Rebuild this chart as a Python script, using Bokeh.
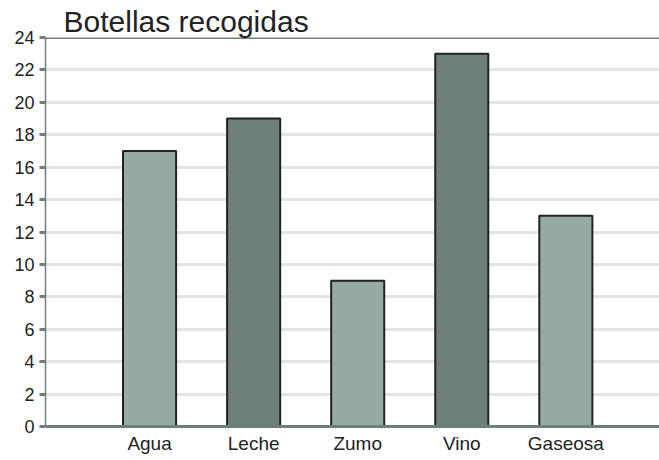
from bokeh.plotting import figure
from bokeh.models import Range1d, FixedTicker, Span, ColumnDataSource
from bokeh.embed import file_html
from bokeh.resources import INLINE

categories = ["Agua", "Leche", "Zumo", "Vino", "Gaseosa"]
values = [17, 19, 9, 23, 13]
colors = ["#95a9a5", "#6f7f79", "#95a9a5", "#6f7f79", "#95a9a5"]
y_ticks = list(range(0, 25, 2))

xs = [i + 1 for i in range(len(categories))]
src = ColumnDataSource(dict(x=xs, top=values, color=colors))

p = figure(width=659, height=456, output_backend="svg", toolbar_location=None,
           x_range=Range1d(0, 5.9), y_range=Range1d(0, 24),
           min_border_left=45, min_border_right=0, min_border_bottom=29,
           min_border_top=37)
p.title.text = "Botellas recogidas"
p.title.text_font = "Liberation Sans"
p.title.text_font_size = "30px"
p.title.text_font_style = "normal"
p.title.text_color = "#222222"
p.title.offset = 18
p.title.standoff = 0
p.outline_line_color = None
p.background_fill_color = "white"

p.vbar(x="x", top="top", bottom=0, width=0.51, fill_color="color",
       line_color="#222222", line_width=2, source=src)

# grid
p.xgrid.grid_line_color = None
p.ygrid.ticker = FixedTicker(ticks=y_ticks)
p.ygrid.grid_line_color = "#e4e4e4"
p.ygrid.grid_line_width = 3
p.ygrid.level = "underlay"

# y axis
p.yaxis.ticker = FixedTicker(ticks=y_ticks)
p.yaxis.axis_line_color = "#6f7f79"
p.yaxis.axis_line_width = 1.5
p.yaxis.major_tick_line_color = "#6f7f79"
p.yaxis.major_tick_line_width = 3
p.yaxis.major_tick_out = 6
p.yaxis.major_tick_in = 0
p.yaxis.minor_tick_line_color = None
p.yaxis.major_label_text_font = "Liberation Sans"
p.yaxis.major_label_text_font_size = "18px"
p.yaxis.major_label_text_color = "#222222"
p.yaxis.major_label_standoff = 5

# x axis
p.xaxis.ticker = FixedTicker(ticks=xs)
p.xaxis.major_label_overrides = {x: c for x, c in zip(xs, categories)}
p.xaxis.axis_line_color = "#6f7f79"
p.xaxis.axis_line_width = 3
p.xaxis.major_tick_line_color = None
p.xaxis.major_tick_out = 0
p.xaxis.major_tick_in = 0
p.xaxis.minor_tick_line_color = None
p.xaxis.major_label_text_font = "Liberation Sans"
p.xaxis.major_label_text_font_size = "19px"
p.xaxis.major_label_text_color = "#222222"
p.xaxis.major_label_standoff = 6

p.add_layout(Span(location=24, dimension="width", line_color="#6f7f79", line_width=3))

open("out.html", "w").write(file_html(p, INLINE))
